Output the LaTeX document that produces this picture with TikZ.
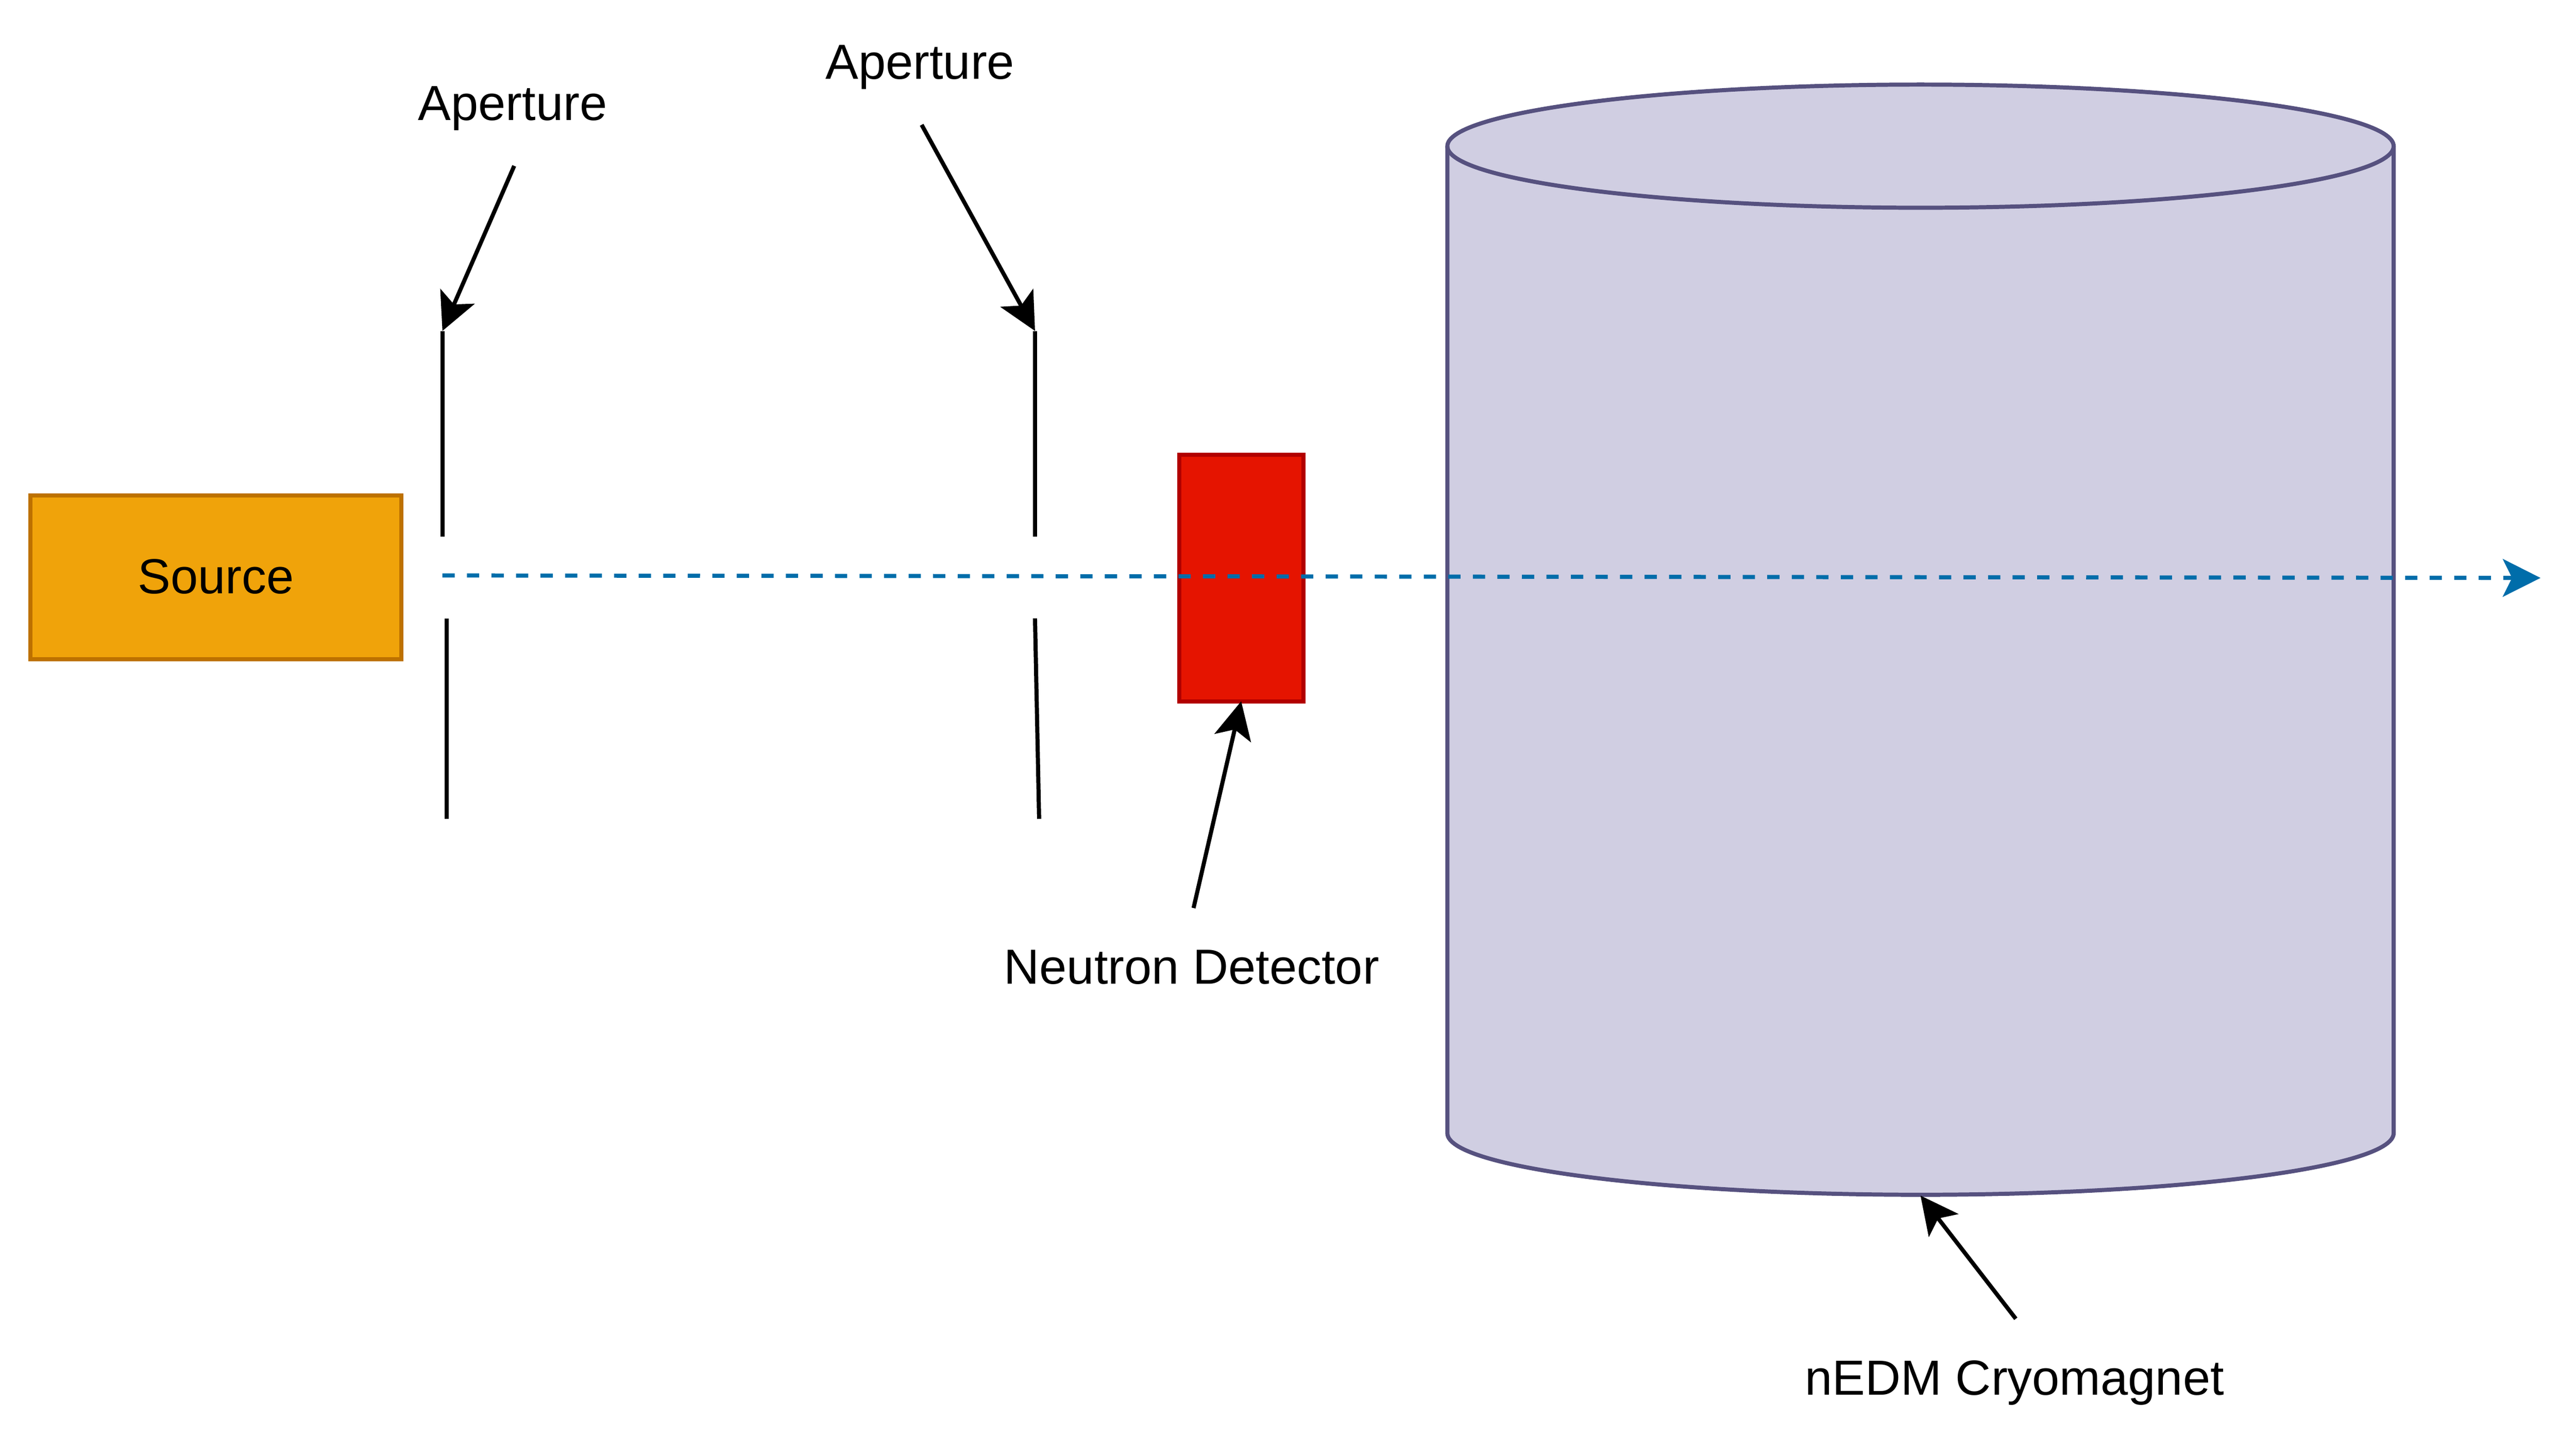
\documentclass[tikz,border=0pt]{standalone}
\usepackage{fontspec}
\setmainfont{Liberation Sans}
\usetikzlibrary{arrows.meta}
\definecolor{sourcefill}{RGB}{240,163,10}
\definecolor{sourceline}{RGB}{189,113,0}
\definecolor{detectfill}{RGB}{229,20,0}
\definecolor{detectline}{RGB}{178,0,0}
\definecolor{cryofill}{RGB}{208,206,226}
\definecolor{cryoline}{RGB}{86,81,127}
\definecolor{beamline}{RGB}{0,109,170}
\tikzset{every picture/.style={line width=0.75pt},
  lbl/.style={inner sep=0pt,font=\fontsize{22.5pt}{27pt}\selectfont},
  slit/.style={line width=1.875pt},
  pointer/.style={line width=1.875pt,-{Stealth[length=17.2pt,width=17pt,inset=4pt]}},
  beam/.style={line width=1.875pt,beamline,dash pattern={on 5.6pt off 5.6pt},-{Stealth[length=17.2pt,width=17.2pt,inset=4.2pt]}}}

\begin{document}
\begin{tikzpicture}[x=0.75pt,y=0.75pt,yscale=-1,xscale=1]
\useasboundingbox (0,0) rectangle (1568,876.7);

%Source
\node [draw=sourceline,fill=sourcefill,line width=1.875pt,minimum width=169.3pt,minimum height=74.7pt,inner sep=0pt,lbl,text depth=1pt] (source) at (131.4,351.6) {Source};
%Cryomagnet
\draw [draw=cryoline,fill=cryofill,line width=1.875pt] (881,89) -- (881,690) arc [start angle=180,end angle=0,x radius=288,y radius=37.5] -- (1457,89) arc [start angle=0,end angle=-180,x radius=288,y radius=37.5] -- cycle;
\draw [draw=cryoline,line width=1.875pt] (881,89) arc [start angle=180,end angle=0,x radius=288,y radius=37.5];
\coordinate (cryobottom) at (1169,728);
%Detector
\node [draw=detectline,fill=detectfill,line width=1.875pt,minimum width=56.7pt,minimum height=112.5pt,inner sep=0pt,outer sep=0pt] (detector) at (755.5,352) {};

%Apertures
\coordinate (slitAa) at (269.3,201.5);
\coordinate (slitAb) at (269.3,326.7);
\coordinate (slitAc) at (271.8,376.5);
\coordinate (slitAd) at (271.8,498.6);
\coordinate (slitBa) at (630,201.5);
\coordinate (slitBb) at (630,326.7);
\coordinate (slitBc) at (630,376.5);
\coordinate (slitBd) at (632.5,498.6);
\draw [slit] (slitAa) -- (slitAb);
\draw [slit] (slitAc) -- (slitAd);
\draw [slit] (slitBa) -- (slitBb);
\draw [slit] (slitBc) -- (slitBd);

%Beam
\coordinate (beamstart) at (269.3,350.4);
\coordinate (beamend) at (1546.4,351.9);
\draw [beam] (beamstart) -- (beamend);

% Text Node
\node [lbl] (aperA) at (312,66) {Aperture};
% Text Node
\node [lbl] (aperB) at (560,41) {Aperture};
% Text Node
\node [lbl] (detlabel) at (725.3,589) {Neutron Detector};
% Text Node
\node [lbl] (cryolabel) at (1226.3,842) {nEDM Cryomagnet};

\coordinate (aperAtail) at (313,101);
\coordinate (aperBtail) at (561,76);
\coordinate (dettail) at (726.5,552.9);
\coordinate (cryotail) at (1227,803);
\draw [pointer] (aperAtail) -- (slitAa);
\draw [pointer] (aperBtail) -- (slitBa);
\draw [pointer] (dettail) -- (detector.south);
\draw [pointer] (cryotail) -- (cryobottom);

\end{tikzpicture}
\end{document}
